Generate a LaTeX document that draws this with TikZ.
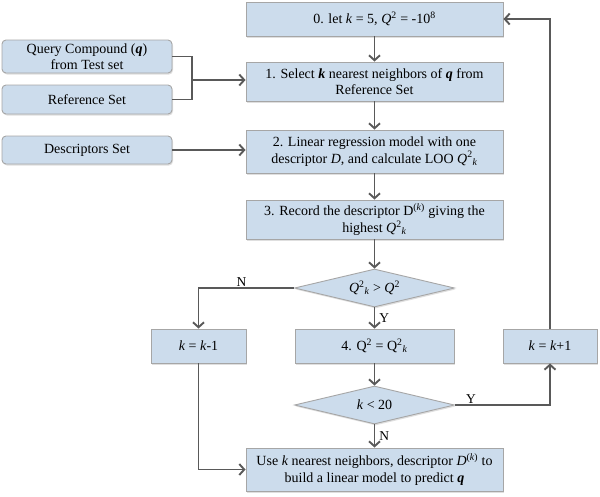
\documentclass[tikz,border=0pt]{standalone}
\usepackage{fontspec}
\setmainfont{Liberation Serif}
\usetikzlibrary{positioning}
\usetikzlibrary{arrows.meta}
\usetikzlibrary{shapes.geometric}
\usetikzlibrary{shadows}
\definecolor{boxblue}{HTML}{CCDCEC}
\definecolor{boxline}{HTML}{A6A6A6}
\definecolor{flowline}{HTML}{595959}
\tikzset{
        flownode/.style={align=center, inner sep=0pt, draw=boxline, line width=0.9pt, fill=boxblue,
            font=\fontsize{14}{16.5}\selectfont,
            drop shadow={shadow xshift=1pt, shadow yshift=-1.5pt, opacity=0.25}},
        % Input sets on the left
        node_input/.style={flownode, rectangle, rounded corners=4pt, minimum width=170pt},
        % Main steps
        node_step/.style={flownode, rectangle, minimum width=257pt},
        % Update boxes for k
        node_small/.style={flownode, rectangle, minimum height=34pt},
        % Tests
        node_test/.style={flownode, diamond, aspect=4, minimum width=160pt, minimum height=38pt},
        % Connectors
        link/.style={draw=flowline, line width=1.9pt},
        flow/.style={link, -{Straight Barb[length=5pt,width=11pt]}},
        answer/.style={inner sep=1pt, font=\fontsize{13.5}{15}\selectfont}
}
\begin{document}
\begin{tikzpicture}[x=1pt, y=-1pt]
    \useasboundingbox (0,0) rectangle (600,496);
    % main column
    \node[node_step, minimum height=34pt] (init) at (374.5,19)
        {0. let \textit{k} = 5, \textit{Q}\textsuperscript{2} = -10\textsuperscript{8}};
    \node[node_step, minimum height=39pt] (select) at (374.5,81.5)
        {1. Select \textbf{\textit{k}} nearest neighbors of \textbf{\textit{q}} from\\Reference Set};
    \node[node_step, minimum height=43pt] (linreg) at (374.5,151.5)
        {2. Linear regression model with one\\descriptor \textit{D}, and calculate LOO \textit{Q}\textsuperscript{2}\textsubscript{\textit{k}}};
    \node[node_step, minimum height=39pt] (record) at (374.5,219.5)
        {3. Record the descriptor D\textsuperscript{(\textit{k})} giving the\\highest \textit{Q}\textsuperscript{2}\textsubscript{\textit{k}}};
    \node[node_test] (cond1) at (374.5,288)
        {\textit{Q}\textsuperscript{2}\textsubscript{\textit{k}} > \textit{Q}\textsuperscript{2}};
    \node[node_small, minimum width=159pt] (update) at (374.5,346)
        {4. Q\textsuperscript{2} = Q\textsuperscript{2}\textsubscript{\textit{k}}};
    \node[node_test] (cond2) at (374.5,405) {\textit{k} < 20};
    \node[node_step, minimum height=43pt] (final) at (374.5,469.5)
        {Use \textit{k} nearest neighbors, descriptor \textit{D}\textsuperscript{(\textit{k})} to\\build a linear model to predict \textbf{\textit{q}}};
    % side boxes
    \node[node_small, minimum width=95pt] (dec) at (198.5,346) {\textit{k} = \textit{k}-1};
    \node[node_small, minimum width=94pt] (inc) at (550,346) {\textit{k} = \textit{k}+1};
    % inputs
    \node[node_input, minimum height=33pt] (query) at (87,56.5)
        {Query Compound (\textbf{\textit{q}})\\from Test set};
    \node[node_input, minimum height=29pt] (refset) at (87,99.5) {Reference Set};
    \node[node_input, minimum height=28pt] (descset) at (87,150) {Descriptors Set};

    % connectors
    \draw[flow] (init.south) -- (select.north);
    \draw[flow] (select.south) -- (linreg.north);
    \draw[flow] (linreg.south) -- (record.north);
    \draw[flow] (record.south) -- (cond1.north);
    \draw[flow] (cond1.south) -- (update.north) node[answer, midway, right=3pt] {Y};
    \draw[flow] (update.south) -- (cond2.north);
    \draw[flow] (cond2.south) -- (final.north) node[answer, midway, right=3pt] {N};
    \draw[flow] (cond1.west) -| (dec.north) node[answer, pos=0.275, above] {N};
    \draw[flow] (dec.south) |- (final.west);
    \draw[flow] (cond2.east) -| (inc.south) node[answer, pos=0.085, above] {Y};
    \draw[flow] (inc.north) |- (init.east);
    \coordinate (join) at (192,80);
    \draw[link] (query.east) -| (join) |- (refset.east);
    \draw[flow] (join) -- (join -| select.west);
    \draw[flow] (descset.east) -- (descset -| linreg.west);
\end{tikzpicture}
\end{document}
